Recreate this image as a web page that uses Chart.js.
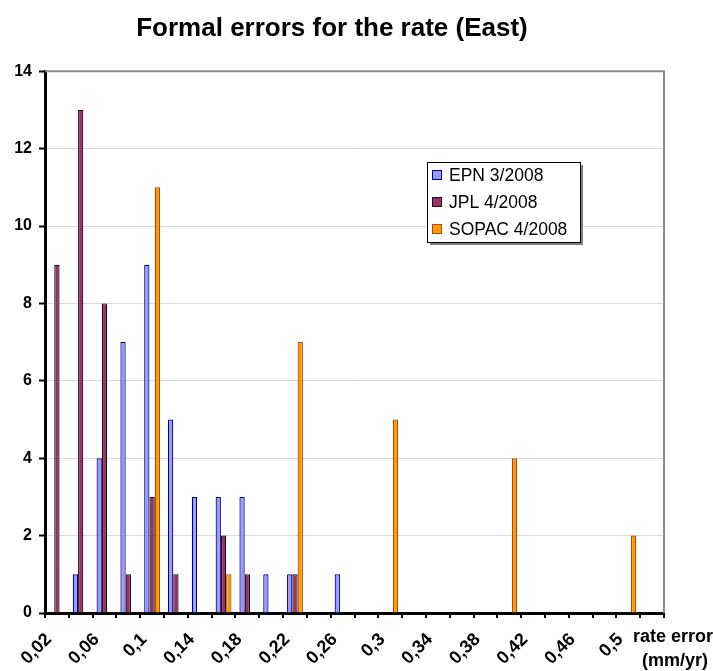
<!DOCTYPE html>
<html>
<head>
<meta charset="utf-8">
<title>Formal errors for the rate (East)</title>
<script src="https://cdn.jsdelivr.net/npm/chart.js@4.4.1/dist/chart.umd.min.js"></script>
<style>
  html, body { margin: 0; padding: 0; background: #fff; }
  #wrap { width: 713px; height: 671px; position: relative; }
</style>
</head>
<body>
<div id="wrap"><canvas id="errChart"></canvas></div>
<script>
// rate error classes (mm/yr), one bar group per class
const rateClasses = ['0,02', '0,04', '0,06', '0,08', '0,1', '0,12', '0,14', '0,16', '0,18',
    '0,2', '0,22', '0,24', '0,26', '0,28', '0,3', '0,32', '0,34', '0,36', '0,38',
    '0,4', '0,42', '0,44', '0,46', '0,48', '0,5', '0,52'];

// number of stations per class
const epnCounts   = [0, 1, 4, 7, 9, 5, 3, 3, 3, 1, 1, 0, 1, 0, 0, 0, 0, 0, 0, 0, 0, 0, 0, 0, 0, 0];
const jplCounts   = [9, 13, 8, 1, 3, 1, 0, 2, 1, 0, 1, 0, 0, 0, 0, 0, 0, 0, 0, 0, 0, 0, 0, 0, 0, 0];
const sopacCounts = [0, 0, 0, 0, 11, 0, 0, 1, 0, 0, 7, 0, 0, 0, 5, 0, 0, 0, 0, 4, 0, 0, 0, 0, 2, 0];

const seriesNames = ['EPN 3/2008', 'JPL 4/2008', 'SOPAC 4/2008'];

const yMin = 0;
const yMax = 14;
const yStep = 2;

const FONT = "'Liberation Sans', Arial, sans-serif";
Chart.defaults.font.family = FONT;
Chart.defaults.color = '#000';

// light grey frame on top and right of the plot area
const plotFrame = {
    id: 'plotFrame',
    beforeDatasetsDraw(chart) {
        const { ctx, chartArea: a } = chart;
        ctx.save();
        ctx.strokeStyle = '#8c8c8c';
        ctx.lineWidth = 2;
        ctx.beginPath();
        ctx.moveTo(a.left, a.top);
        ctx.lineTo(a.right, a.top);
        ctx.lineTo(a.right, a.bottom);
        ctx.stroke();
        ctx.restore();
    }
};

// boxed legend sitting inside the plot
const innerLegend = {
    id: 'innerLegend',
    afterDraw(chart) {
        const { ctx } = chart;
        const x = 427, y = 162, w = 153, h = 80;
        ctx.save();
        ctx.fillStyle = '#7f7f7f';
        ctx.fillRect(x + 3, y + 3, w, h);
        ctx.fillStyle = '#fff';
        ctx.fillRect(x, y, w, h);
        ctx.strokeStyle = '#000';
        ctx.lineWidth = 1;
        ctx.strokeRect(x + 0.5, y + 0.5, w, h);
        ctx.font = '17.5px ' + FONT;
        ctx.textBaseline = 'middle';
        chart.data.datasets.forEach((ds, i) => {
            const cy = y + 13 + i * 27;
            ctx.fillStyle = ds.backgroundColor;
            ctx.fillRect(x + 6, cy - 4, 8, 8);
            ctx.strokeStyle = ds.borderColor;
            ctx.strokeRect(x + 5.5, cy - 4.5, 9, 9);
            ctx.fillStyle = '#000';
            ctx.fillText(ds.label, x + 22, cy + 1);
        });
        ctx.restore();
    }
};

// x axis title at the end of the axis
const axisTitle = {
    id: 'axisTitle',
    afterDraw(chart) {
        const { ctx } = chart;
        ctx.save();
        ctx.font = 'bold 18px ' + FONT;
        ctx.fillStyle = '#000';
        ctx.textAlign = 'center';
        ctx.textBaseline = 'middle';
        ctx.fillText('rate error', 673, 637);
        ctx.fillText('(mm/yr)', 675, 661);
        ctx.restore();
    }
};

const ctx = document.getElementById('errChart').getContext('2d');

new Chart(ctx, {
    type: 'bar',
    data: {
        labels: rateClasses,
        datasets: [{
            label: seriesNames[0],
            data: epnCounts,
            backgroundColor: '#9999ff',
            borderColor: '#000080',
            borderWidth: 1.2
        }, {
            label: seriesNames[1],
            data: jplCounts,
            backgroundColor: '#993366',
            borderColor: '#1a0a10',
            borderWidth: 1.2
        }, {
            label: seriesNames[2],
            data: sopacCounts,
            backgroundColor: '#ff9900',
            borderColor: '#b04a08',
            borderWidth: 1.2
        }]
    },
    options: {
        responsive: true,
        maintainAspectRatio: false,
        animation: false,
        categoryPercentage: 0.667,
        barPercentage: 1.0,
        layout: { padding: { left: 0, right: 49, top: 0, bottom: 0 } },
        plugins: {
            legend: { display: false },
            tooltip: { enabled: false },
            title: {
                display: true,
                text: 'Formal errors for the rate (East)',
                color: '#000',
                font: { size: 26, weight: 'bold' },
                padding: { top: 13, bottom: 27 }
            }
        },
        scales: {
            x: {
                offset: true,
                grid: {
                    offset: true,
                    drawOnChartArea: false,
                    drawTicks: true,
                    tickLength: 5,
                    color: '#000',
                    lineWidth: 2
                },
                border: { color: '#000', width: 3 },
                ticks: {
                    autoSkip: false,
                    minRotation: 45,
                    maxRotation: 45,
                    padding: 11,
                    labelOffset: -8,
                    color: '#000',
                    font: { size: 18, weight: 'bold' },
                    // only every second class gets a label
                    callback: (val, i) => (i % 2 === 0 ? rateClasses[i] : '')
                },
                afterFit: (s) => { s.height = 671 - 613; }
            },
            y: {
                min: yMin,
                max: yMax,
                grid: {
                    color: '#d9d9d9',
                    lineWidth: 1,
                    drawTicks: true,
                    tickLength: 6,
                    tickColor: '#000',
                    tickWidth: 2
                },
                border: { color: '#000', width: 3 },
                ticks: {
                    stepSize: yStep,
                    padding: 7,
                    color: '#000',
                    font: { size: 16, weight: 'bold' }
                },
                afterFit: (s) => { s.width = 45; }
            }
        }
    },
    plugins: [plotFrame, innerLegend, axisTitle]
});
</script>
</body>
</html>
